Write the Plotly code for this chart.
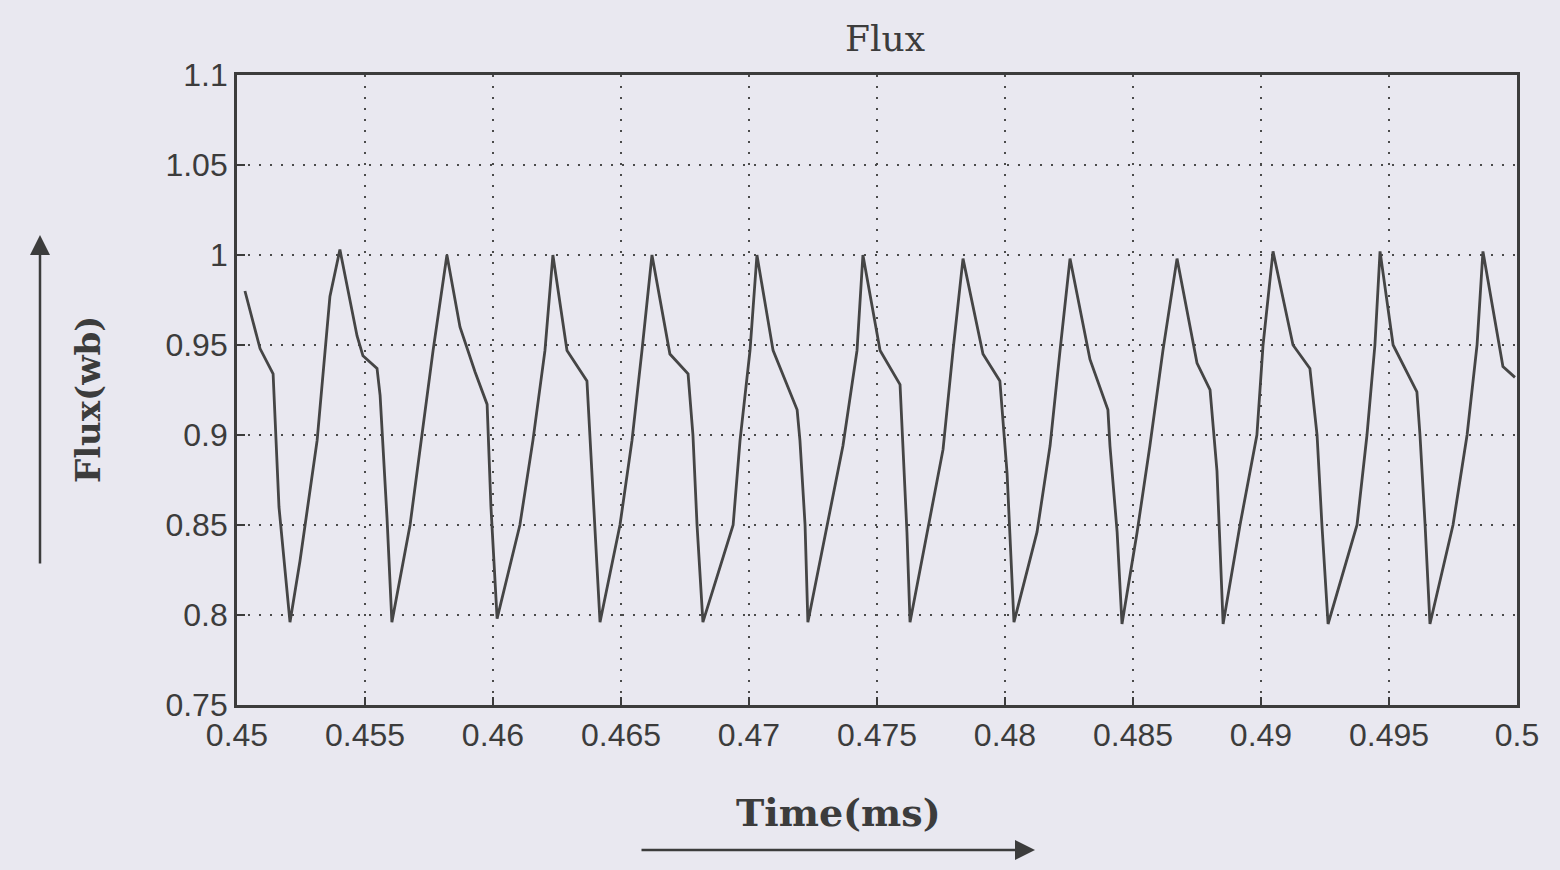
import plotly.graph_objects as go

# Time (ms) and flux (wb)
time_ms = [
    0.45031, 0.45090, 0.45141, 0.45164, 0.45207, 0.45246, 0.45313, 0.45363,
    0.45402, 0.45430, 0.45469, 0.45492, 0.45547, 0.45559, 0.45586, 0.45605, 0.45676, 0.45766,
    0.45820, 0.45871, 0.45930, 0.45977, 0.45992, 0.46016, 0.46105, 0.46156, 0.46203,
    0.46234, 0.46289, 0.46367, 0.46379, 0.46398, 0.46418, 0.46496, 0.46543, 0.46582,
    0.46621, 0.46691, 0.46762, 0.46781, 0.46797, 0.46820, 0.46938, 0.46965, 0.47004,
    0.47031, 0.47094, 0.47188, 0.47199, 0.47219, 0.47230, 0.47367, 0.47422,
    0.47445, 0.47512, 0.47590, 0.47602, 0.47617, 0.47629, 0.47758, 0.47797,
    0.47836, 0.47914, 0.47980, 0.48008, 0.48035, 0.48125, 0.48176, 0.48215,
    0.48254, 0.48332, 0.48402, 0.48410, 0.48438, 0.48457, 0.48516, 0.48566, 0.48617,
    0.48672, 0.48750, 0.48801, 0.48828, 0.48852, 0.48918, 0.48984, 0.49008,
    0.49047, 0.49125, 0.49191, 0.49219, 0.49238, 0.49262, 0.49375, 0.49414, 0.49445,
    0.49465, 0.49516, 0.49609, 0.49621, 0.49641, 0.49660, 0.49750, 0.49805, 0.49844,
    0.49867, 0.49945, 0.49992,
]
flux_wb = [
    0.980, 0.948, 0.934, 0.860, 0.796, 0.830, 0.897, 0.977,
    1.003, 0.982, 0.955, 0.944, 0.937, 0.922, 0.854, 0.796, 0.850, 0.947,
    1.000, 0.960, 0.935, 0.917, 0.860, 0.798, 0.850, 0.897, 0.947,
    1.000, 0.947, 0.930, 0.900, 0.850, 0.796, 0.850, 0.897, 0.947,
    1.000, 0.945, 0.934, 0.900, 0.850, 0.796, 0.850, 0.897, 0.947,
    1.000, 0.947, 0.914, 0.897, 0.850, 0.796, 0.894, 0.947,
    1.000, 0.947, 0.928, 0.894, 0.846, 0.796, 0.892, 0.947,
    0.998, 0.945, 0.930, 0.879, 0.796, 0.846, 0.894, 0.947,
    0.998, 0.942, 0.914, 0.894, 0.846, 0.795, 0.846, 0.894, 0.947,
    0.998, 0.940, 0.925, 0.880, 0.795, 0.850, 0.900, 0.950,
    1.002, 0.950, 0.937, 0.900, 0.850, 0.795, 0.850, 0.900, 0.950,
    1.002, 0.950, 0.924, 0.900, 0.850, 0.795, 0.850, 0.900, 0.950,
    1.002, 0.938, 0.932,
]

x_ticks = [0.45, 0.455, 0.46, 0.465, 0.47, 0.475, 0.48, 0.485, 0.49, 0.495, 0.5]
x_labels = ["0.45", "0.455", "0.46", "0.465", "0.47", "0.475", "0.48", "0.485", "0.49", "0.495", "0.5"]
y_ticks = [0.75, 0.8, 0.85, 0.9, 0.95, 1.0, 1.05, 1.1]
y_labels = ["0.75", "0.8", "0.85", "0.9", "0.95", "1", "1.05", "1.1"]

BG = "#E9E8F0"
INK = "#3c3c3c"

fig = go.Figure()
fig.add_trace(go.Scatter(x=time_ms, y=flux_wb, mode="lines",
                         line=dict(color="#454545", width=2.8), showlegend=False))

axis_common = dict(showline=True, linecolor=INK, linewidth=2.8, mirror=True,
                   ticks="inside", ticklen=8, tickcolor=INK, tickwidth=2,
                   showgrid=True, gridcolor="#4a4a4a", gridwidth=2.2, griddash="2px,9px",
                   zeroline=False,
                   tickfont=dict(family="Liberation Sans, Arial, sans-serif", size=32, color=INK))

fig.update_xaxes(range=[0.45, 0.5], tickvals=x_ticks, ticktext=x_labels, **axis_common)
fig.update_yaxes(range=[0.75, 1.1], tickvals=y_ticks, ticktext=y_labels, **axis_common)

serif = "DejaVu Serif, Liberation Serif, serif"
fig.update_layout(
    width=1560, height=870,
    margin=dict(l=237, r=43, t=75, b=165),
    paper_bgcolor=BG, plot_bgcolor=BG,
    title=dict(text="Flux", x=(885 / 1560), xanchor="center", y=1 - 38 / 870, yanchor="middle",
               font=dict(family=serif, size=36, color=INK)),
    annotations=[
        dict(text="<b>Time(ms)</b>", xref="paper", yref="paper",
             x=(838 - 237) / 1280, y=(705 - 812) / 630, showarrow=False,
             font=dict(family=serif, size=38, color=INK), xanchor="center", yanchor="middle"),
        dict(text="<b>Flux(wb)</b>", xref="paper", yref="paper", textangle=-90,
             x=(88 - 237) / 1280, y=(705 - 400) / 630, showarrow=False,
             font=dict(family=serif, size=34, color=INK), xanchor="center", yanchor="middle"),
        # decorative arrows
        dict(text="", xref="paper", yref="paper", x=(40 - 237) / 1280, y=(705 - 235) / 630,
             ax=0, ay=330, showarrow=True, arrowhead=2, arrowsize=1.6, arrowwidth=2.5,
             arrowcolor=INK),
        dict(text="", xref="paper", yref="paper", x=(1035 - 237) / 1280, y=(705 - 850) / 630,
             ax=-395, ay=0, showarrow=True, arrowhead=2, arrowsize=1.6, arrowwidth=2.5,
             arrowcolor=INK),
    ],
)

fig.write_html(
    "out.html",
    config={"displayModeBar": False},
    post_script="document.body.style.margin='0';document.body.style.background='%s';" % BG,
)
